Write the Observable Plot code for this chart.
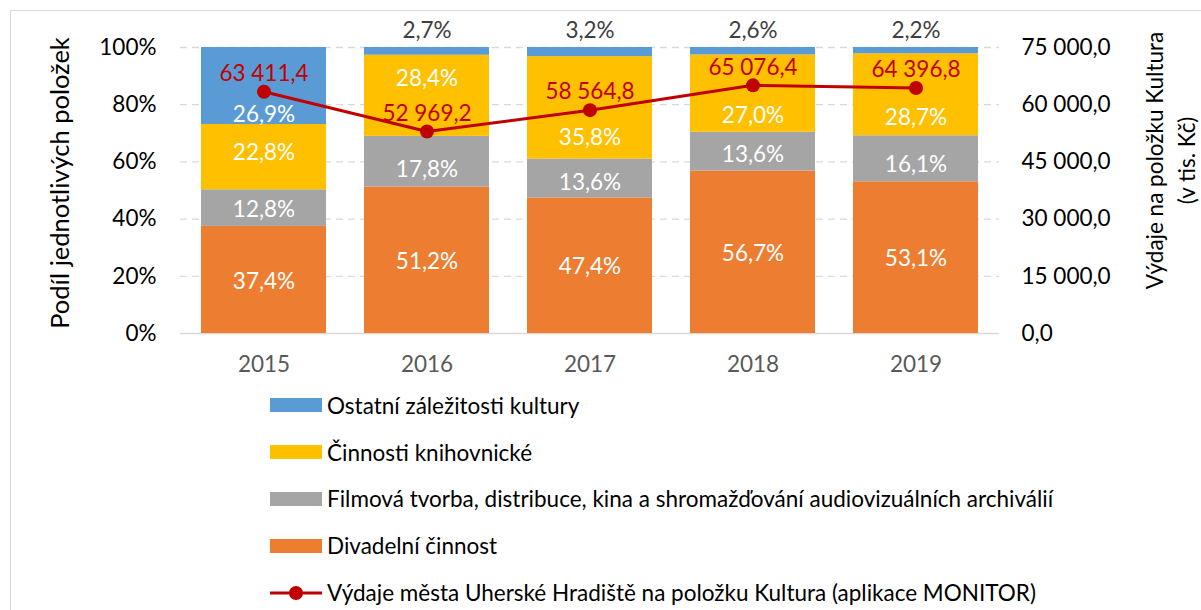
<!DOCTYPE html>
<html><head><meta charset="utf-8">
<script src="https://cdn.jsdelivr.net/npm/d3@7"></script>
<script src="https://cdn.jsdelivr.net/npm/@observablehq/plot@0.6"></script>
<style>
html,body{margin:0;padding:0;background:#fff;overflow:hidden;}
body{width:1201px;height:610px;position:relative;font-family:Lato,sans-serif;}
#frame{position:absolute;left:10px;top:10px;width:1250px;height:700px;border:1.5px solid #d9d9d9;box-sizing:border-box;}
#chart{position:absolute;left:0;top:0;}
#legend{position:absolute;left:270px;top:382px;font-size:22.5px;color:#000;}
.row{display:flex;align-items:center;height:46.8px;white-space:nowrap;}
.sw{width:52px;height:14px;margin-right:5px;flex:none;}
.lsw{width:52px;height:16px;margin-right:5px;flex:none;}
</style></head><body>
<div id="frame"></div><div id="chart"></div><div id="legend"></div>
<script>
const years = ["2015","2016","2017","2018","2019"];
const series = ["Divadelní činnost","Filmová tvorba, distribuce, kina a shromažďování audiovizuálních archiválií","Činnosti knihovnické","Ostatní záležitosti kultury"];
const divadelni = [37.4,51.2,47.4,56.7,53.1];
const filmova = [12.8,17.8,13.6,13.6,16.1];
const knihovnicke = [22.8,28.4,35.8,27.0,28.7];
const ostatni = [26.9,2.7,3.2,2.6,2.2];
const vydaje = [63411.4,52969.2,58564.8,65076.4,64396.8];
const lineName = "Výdaje města Uherské Hradiště na položku Kultura (aplikace MONITOR)";
const leftTicks = [0,20,40,60,80,100];
const rightTicks = [0,15000,30000,45000,60000,75000];
const rightMax = 75000;
const leftTitle = "Podíl jednotlivých položek";
const rightTitle = "Výdaje na položku Kultura\n(v tis. Kč)";

// styling
const colors = ["#ED7D31","#A5A5A5","#FFC000","#5B9BD5"];
const lineColor = "#C00000";
const FS = 22.5;
// pixel nudges of the in-bar labels (as moved in the original), per series, per year
const labelNudge = [
  [1.5,1.5,1.5,1.5,1.5],
  [2,8,4,3,6],
  [-4,-17,30,22,23],
  [29,null,null,null,null]
];

const seriesValues = [divadelni, filmova, knihovnicke, ostatni];
const table = [];
years.forEach((y,i)=>series.forEach((s,j)=>table.push({year:y, series:s, value:seriesValues[j][i], si:j, yi:i})));
const lineData = years.map((y,i)=>({year:y, v:vydaje[i]}));

const loc = d3.formatLocale({decimal:",", thousands:"\u00a0", grouping:[3]});
const fmtNum = loc.format(",.1f");
const fmtPct = v => v.toFixed(1).replace(".",",") + "%";

const stackOpts = {x:"year", y:"value", z:"series", order: series, offset:"normalize"};

const inBarLabels = table.filter(r => labelNudge[r.si][r.yi] !== null).map(r =>
  Plot.text(table, Plot.stackY({...stackOpts, text: d => d === r ? fmtPct(d.value) : "", fill:"white", fontSize:FS, dy: labelNudge[r.si][r.yi]}))
);

const chart = Plot.plot({
  width: 1201,
  height: 390,
  marginTop: 47,
  marginBottom: 57,
  marginLeft: 180,
  marginRight: 202,
  style: {fontFamily: "Lato, sans-serif", fontSize: FS + "px", background: "transparent"},
  x: {domain: years, paddingInner: 0.232, paddingOuter: 0.116},
  y: {domain: [0,1]},
  color: {domain: series, range: colors},
  marks: [
    Plot.ruleY(leftTicks.filter(t=>t>0).map(t=>t/100), {stroke:"#D9D9D9", strokeWidth:1.3, strokeDasharray:"7,5"}),
    Plot.ruleY([0], {stroke:"#D9D9D9", strokeWidth:1.5}),
    Plot.barY(table, {...stackOpts, fill:"series"}),
    ...inBarLabels,
    Plot.text(table, Plot.stackY2({...stackOpts, text: d => (d.si === 3 && labelNudge[3][d.yi] === null) ? fmtPct(d.value) : "", fill:"#404040", fontSize:FS, dy:-17})),
    Plot.line(lineData, {x:"year", y: d => d.v / rightMax, stroke: lineColor, strokeWidth: 3}),
    Plot.dot(lineData, {x:"year", y: d => d.v / rightMax, fill: lineColor, r: 7}),
    Plot.text(lineData, {x:"year", y: d => d.v / rightMax, text: d => fmtNum(d.v), fill: lineColor, fontSize: FS, dy: -18}),
    Plot.axisY({ticks: leftTicks.map(t=>t/100), tickFormat: d => Math.round(d*100) + "%", tickSize:0, tickPadding:24, fontSize:FS, color:"#000", label:null}),
    Plot.axisY({anchor:"right", ticks: rightTicks.map(t=>t/rightMax), tickFormat: d => fmtNum(d*rightMax), tickSize:0, tickPadding:22, textAnchor:"start", fontSize:FS, color:"#000", label:null}),
    Plot.axisX({tickSize:0, tickPadding:23, fontSize:FS, color:"#595959", label:null}),
    Plot.text([leftTitle], {frameAnchor:"left", dx:-120, dy:-7.5, rotate:-90, textAnchor:"middle", fontSize:25.5, fill:"#000"}),
    Plot.text([rightTitle], {frameAnchor:"right", dx:169, dy:-30, rotate:-90, textAnchor:"middle", fontSize:FS, fill:"#000", lineHeight:1.45})
  ]
});
document.getElementById("chart").appendChild(chart);

const legend = document.getElementById("legend");
[3,2,1,0].forEach(j=>{
  const row = document.createElement("div"); row.className="row";
  row.innerHTML = `<div class="sw" style="background:${colors[j]}"></div><span>${series[j]}</span>`;
  legend.appendChild(row);
});
const lr = document.createElement("div"); lr.className="row";
lr.innerHTML = `<svg class="lsw" width="52" height="16"><line x1="0" y1="8" x2="52" y2="8" stroke="${lineColor}" stroke-width="3"/><circle cx="26" cy="8" r="7" fill="${lineColor}"/></svg><span>${lineName}</span>`;
legend.appendChild(lr);
</script>
</body></html>
